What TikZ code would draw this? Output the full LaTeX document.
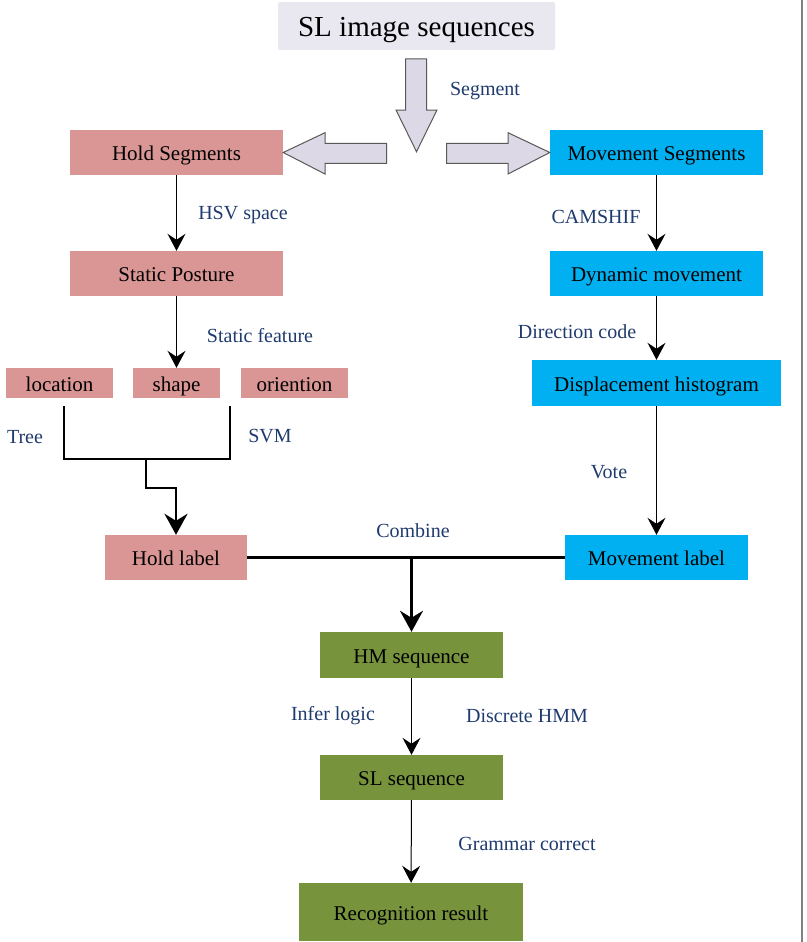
\documentclass[tikz,border=0pt]{standalone}
\usepackage{fontspec}
\setmainfont{Liberation Serif}
\usetikzlibrary{arrows.meta}
\definecolor{holdpink}{HTML}{D99694}
\definecolor{moveblue}{HTML}{00B0F0}
\definecolor{seqgreen}{HTML}{77933C}
\definecolor{toplilac}{HTML}{E9E7F0}
\definecolor{arrowlilac}{HTML}{DCD8E6}
\definecolor{labelblue}{HTML}{1F3A6E}
\tikzset{
    box/.style={inner sep=0pt, text height=16pt, text depth=0pt, font=\fontsize{21}{25}\selectfont},
    holdbox/.style={box, fill=holdpink},
    movebox/.style={box, fill=moveblue},
    seqbox/.style={box, fill=seqgreen},
    steplabel/.style={text=labelblue, inner sep=0pt, font=\fontsize{20}{24}\selectfont},
    conn/.style={line width=1pt, -{Stealth[length=17pt,width=18pt,inset=6pt]}},
    thickconn/.style={line width=2.8pt, -{Stealth[length=21pt,width=23pt,inset=7pt]}},
    blockarrow/.style={fill=arrowlilac, draw=black!65, line width=1pt, line join=miter},
}
\begin{document}
\begin{tikzpicture}[x=1pt, y=-1pt]
    \useasboundingbox (0,0) rectangle (806,942);
    \draw[gray, line width=2.5pt] (802,0) -- (802,942);
    \node[box, fill=toplilac, rounded corners=2pt, minimum width=277, minimum height=48, text height=21pt, font=\fontsize{29}{34}\selectfont] (sl) at (416.5,26) {SL image sequences};
    \node[holdbox, minimum width=213, minimum height=45] (holdseg) at (176.5,152.5) {Hold Segments};
    \node[movebox, minimum width=213, minimum height=45] (moveseg) at (656.5,152.5) {Movement Segments};
    \node[holdbox, minimum width=213, minimum height=45] (static) at (176.5,273.5) {Static Posture};
    \node[movebox, minimum width=213, minimum height=45] (dynamic) at (656.5,273.5) {Dynamic movement};
    \node[holdbox, minimum width=107, minimum height=30] (location) at (59.5,383) {location};
    \node[holdbox, minimum width=87, minimum height=30] (shape) at (176.5,383) {shape};
    \node[holdbox, minimum width=107, minimum height=30] (orient) at (294.5,383) {oriention};
    \node[movebox, minimum width=249, minimum height=46] (displace) at (656.5,383) {Displacement histogram};
    \node[holdbox, minimum width=142, minimum height=45] (holdlab) at (176,557.5) {Hold label};
    \node[movebox, minimum width=183, minimum height=45] (movelab) at (656.5,557.5) {Movement label};
    \node[seqbox, minimum width=183, minimum height=46] (hm) at (411.5,655) {HM sequence};
    \node[seqbox, minimum width=183, minimum height=45] (slseq) at (411.5,777.5) {SL sequence};
    \node[seqbox, minimum width=224, minimum height=58] (result) at (411,912) {Recognition result};
    \node[steplabel] (segment) at (485,91) {Segment};
    \node[steplabel] (hsv) at (243,215) {HSV space};
    \node[steplabel] (feature) at (260,336) {Static feature};
    \node[steplabel] (camshif) at (596,217) {CAMSHIF};
    \node[steplabel] (direction) at (577,332) {Direction code};
    \node[steplabel] (tree) at (25,437) {Tree};
    \node[steplabel] (svm) at (270,436) {SVM};
    \node[steplabel] (vote) at (609,472) {Vote};
    \node[steplabel] (combine) at (413,531) {Combine};
    \node[steplabel] (infer) at (333,716) {Infer logic};
    \node[steplabel] (hmm) at (527,716) {Discrete HMM};
    \node[steplabel] (grammar) at (527,844) {Grammar correct};
    \draw[blockarrow] (405.7,59) -- (426.7,59) -- (426.7,110) -- (437,110) -- (416.5,151.7) -- (396,110) -- (405.7,110) -- cycle;
    \draw[blockarrow] (386.7,143.3) -- (325,143.3) -- (325,132.7) -- (holdseg.east) -- (325,174) -- (325,163.3) -- (386.7,163.3) -- cycle;
    \draw[blockarrow] (446.7,143.3) -- (508,143.3) -- (508,132.7) -- (moveseg.west) -- (508,174) -- (508,163.3) -- (446.7,163.3) -- cycle;
    \draw[conn] (holdseg) -- (static);
    \draw[conn] (static) -- (shape);
    \draw[conn] (moveseg) -- (dynamic);
    \draw[conn] (dynamic) -- (displace);
    \draw[conn] (displace) -- (movelab);
    \coordinate (treetop) at (64,406);
    \coordinate (svmtop) at (230,406);
    \coordinate (bend) at (146,459);
    \draw[line width=2.8pt, line join=miter] (treetop) -- (treetop |- bend) -- (svmtop |- bend) -- (svmtop);
    \draw[thickconn] (bend) -- (146,488) -| (holdlab);
    \draw[line width=2.8pt] (holdlab) -- (movelab);
    \coordinate (join) at (411.5,557.5);
    \draw[thickconn] (join) -- (hm);
    \draw[conn] (hm) -- (slseq);
    \draw[conn] (slseq) -- (result);
\end{tikzpicture}
\end{document}
